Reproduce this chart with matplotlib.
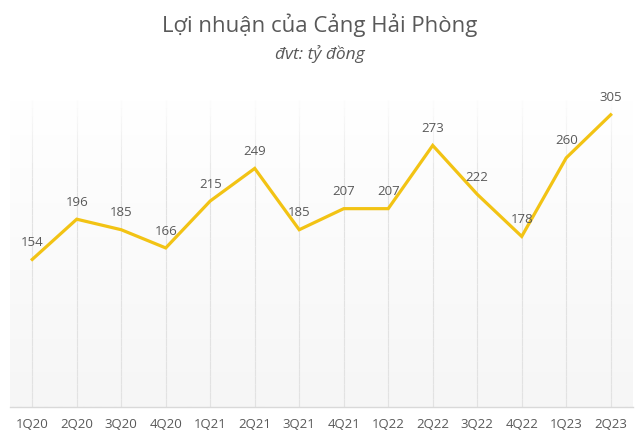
import matplotlib
matplotlib.use("Agg")
import matplotlib.pyplot as plt
import numpy as np
from matplotlib.colors import LinearSegmentedColormap

quarters = ["1Q20", "2Q20", "3Q20", "4Q20", "1Q21", "2Q21", "3Q21", "4Q21",
            "1Q22", "2Q22", "3Q22", "4Q22", "1Q23", "2Q23"]
profit = [154, 196, 185, 166, 215, 249, 185, 207, 207, 273, 222, 178, 260, 305]

plt.rcParams['font.family'] = ['Open Sans', 'DejaVu Sans']
fig = plt.figure(figsize=(6.4, 4.38), dpi=100)
ax = fig.add_axes([0.0156, 0.0708, 0.9734, 0.70])
x = list(range(len(quarters)))

# subtle background gradient (white at top to light gray at bottom)
bg = LinearSegmentedColormap.from_list("bg", ["#F6F6F6", "#FFFFFF"])
ax.imshow(np.linspace(0, 1, 256).reshape(-1, 1), cmap=bg, aspect="auto",
          extent=(0, 1, 0, 1), transform=ax.transAxes, origin="lower", zorder=0)
# gridlines that fade toward the top
grad_n = 40
ymax = 320
for xi in x:
    for k in range(grad_n):
        y0 = ymax * k / grad_n
        y1 = ymax * (k + 1) / grad_n
        a = 1.0 if k < grad_n * 0.7 else max(0.0, 1 - (k - grad_n * 0.7) / (grad_n * 0.3))
        ax.plot([xi, xi], [y0, y1], color="#E2E2E2", lw=0.8, alpha=a, zorder=1,
                solid_capstyle="butt")

ax.plot(x, profit, color="#F2C314", lw=2.3, solid_joinstyle="miter", zorder=3)
for xi, v in zip(x, profit):
    ax.annotate(str(v), (xi, v), xytext=(0, 7.5), textcoords="offset points",
                ha="center", va="bottom", fontsize=9.5, color="#595959")
ax.set_xlim(-0.5, len(quarters) - 0.5)
ax.set_ylim(0, ymax)
ax.set_xticks(x)
ax.set_xticklabels(quarters, fontsize=9.5, color="#595959")
ax.tick_params(axis="x", length=0, pad=8)
ax.set_yticks([])
for s in ["top", "right", "left"]:
    ax.spines[s].set_visible(False)
ax.spines["bottom"].set_color("#D9D9D9")
ax.spines["bottom"].set_linewidth(1)
fig.text(0.5, 0.942, "Lợi nhuận của Cảng Hải Phòng", ha="center", va="center",
         fontsize=16, color="#595959")
fig.text(0.5, 0.877, "đvt: tỷ đồng", ha="center", va="center",
         fontsize=12.5, color="#595959", style="italic")
fig.savefig("out.png", dpi=100)
